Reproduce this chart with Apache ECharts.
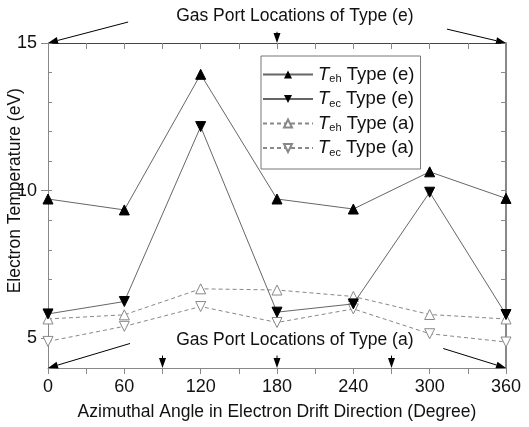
<!DOCTYPE html>
<html><head><meta charset="utf-8">
<script src="https://cdn.jsdelivr.net/npm/echarts@6/dist/echarts.min.js"></script>
<style>html,body{margin:0;padding:0;background:#fff}#c{width:529px;height:427px}</style>
</head><body><div id="c"></div>
<script>
var angles = [0, 60, 120, 180, 240, 300, 360];
var tehE = [9.72, 9.35, 13.94, 9.72, 9.38, 10.64, 9.74];
var tecE = [5.83, 6.25, 12.17, 5.89, 6.17, 9.95, 5.81];
var tehA = [5.66, 5.80, 6.68, 6.64, 6.42, 5.81, 5.66];
var tecA = [4.90, 5.41, 6.08, 5.54, 6.00, 5.16, 4.88];
var yLabelValues = [5, 10, 15];
var topText = 'Gas Port Locations of Type (e)';
var bottomText = 'Gas Port Locations of Type (a)';
// arrows in data units: [fromX, fromY, toX, toY]
var topArrows = [[63, 15.71, 0, 15], [313.6, 15.47, 360, 15], [180, 15.38, 180, 15]];
var bottomArrows = [[64.5, 4.83, 0, 4], [310.7, 4.66, 360, 4], [90, 4.42, 90, 4], [180, 4.42, 180, 4], [270, 4.42, 270, 4]];

function pairs(ys){ return angles.map(function(a,i){ return [a, ys[i]]; }); }
var FONT = '"Liberation Sans", Arial, sans-serif';
var names = ['Teh Type (e)', 'Tec Type (e)', 'Teh Type (a)', 'Tec Type (a)'];
var legendRich = {
  'Teh Type (e)': '{t|T}{s|eh}{n| Type (e)}',
  'Tec Type (e)': '{t|T}{s|ec}{n| Type (e)}',
  'Teh Type (a)': '{t|T}{s|eh}{n| Type (a)}',
  'Tec Type (a)': '{t|T}{s|ec}{n| Type (a)}'
};

var chart = echarts.init(document.getElementById('c'), null, {renderer:'canvas'});
var axisGray = '#888';
var option = {
  animation: false,
  backgroundColor: '#fff',
  grid: {left: 48, right: 23, top: 43, bottom: 59},
  legend: {
    orient: 'vertical', left: 261, top: 56,
    itemWidth: 50, itemHeight: 10, itemGap: 5,
    borderColor: '#777', borderWidth: 1,
    padding: [9, 6, 11, 1],
    data: names,
    formatter: function(n){ return legendRich[n]; },
    textStyle: {
      fontFamily: FONT, fontSize: 18.5, color: '#111',
      rich: {
        t: {fontFamily: FONT, fontSize: 18.5, fontStyle: 'italic', color: '#111'},
        s: {fontFamily: FONT, fontSize: 11, color: '#111', padding: [9, 0, 0, 0]},
        n: {fontFamily: FONT, fontSize: 18.5, color: '#111'}
      }
    }
  },
  xAxis: [{
    type: 'value', min: 0, max: 360, interval: 30,
    axisLine: {lineStyle: {color: axisGray, width: 1}},
    axisTick: {length: 6, lineStyle: {color: axisGray}},
    axisLabel: {fontFamily: FONT, fontSize: 18, color: '#111', margin: 10,
      formatter: function(v){ return v % 60 === 0 ? String(v) : ''; }},
    splitLine: {show: false},
    name: 'Azimuthal Angle in Electron Drift Direction (Degree)',
    nameLocation: 'middle', nameGap: 35,
    nameTextStyle: {fontFamily: FONT, fontSize: 17.5, color: '#111'}
  }, {
    type: 'value', position: 'top', min: 0, max: 360, interval: 30,
    axisLine: {show: true, lineStyle: {color: '#444', width: 1}},
    axisTick: {inside: true, length: 6, lineStyle: {color: axisGray}},
    axisLabel: {show: false}, splitLine: {show: false}
  }],
  yAxis: [{
    type: 'value', min: 4, max: 15, interval: 1,
    axisLine: {show: true, lineStyle: {color: axisGray, width: 1}},
    axisTick: {show: true, length: 7, customValues: yLabelValues, lineStyle: {color: axisGray}},
    axisLabel: {fontFamily: FONT, fontSize: 18, color: '#111', margin: 11, customValues: yLabelValues},
    splitLine: {show: false}
  }, {
    type: 'value', position: 'left', min: 4, max: 15, interval: 1,
    axisLine: {show: false},
    axisTick: {show: true, inside: true, length: 4, lineStyle: {color: axisGray}},
    axisLabel: {show: false}, splitLine: {show: false}
  }, {
    type: 'value', position: 'right', min: 4, max: 15, interval: 1,
    axisLine: {show: true, lineStyle: {color: axisGray, width: 2}},
    axisTick: {show: true, inside: true, length: 5, lineStyle: {color: axisGray}},
    axisLabel: {show: false}, splitLine: {show: false}
  }],
  series: [{
    name: names[0], type: 'line', data: pairs(tehE),
    symbol: 'triangle', symbolSize: 10,
    lineStyle: {color: '#666', width: 1},
    itemStyle: {color: '#000', borderColor: '#000'}, z: 4
  }, {
    name: names[1], type: 'line', data: pairs(tecE),
    symbol: 'triangle', symbolRotate: 180, symbolSize: 10,
    lineStyle: {color: '#666', width: 1},
    itemStyle: {color: '#000', borderColor: '#000'}, z: 4
  }, {
    name: names[2], type: 'line', data: pairs(tehA),
    symbol: 'triangle', symbolSize: 10,
    lineStyle: {color: '#888', width: 1, type: [4, 3]},
    itemStyle: {color: '#fff', borderColor: '#888', borderWidth: 1}, z: 3
  }, {
    name: names[3], type: 'line', data: pairs(tecA),
    symbol: 'triangle', symbolRotate: 180, symbolSize: 10,
    lineStyle: {color: '#888', width: 1, type: [4, 3]},
    itemStyle: {color: '#fff', borderColor: '#888', borderWidth: 1}, z: 3
  }]
};
chart.setOption(option);

function arrowGraphics(list){
  var out = [];
  list.forEach(function(a){
    var p0 = chart.convertToPixel({gridIndex: 0}, [a[0], a[1]]);
    var p1 = chart.convertToPixel({gridIndex: 0}, [a[2], a[3]]);
    var dx = p1[0]-p0[0], dy = p1[1]-p0[1];
    var L = Math.sqrt(dx*dx+dy*dy), ux = dx/L, uy = dy/L;
    var hl = 10, hw = 3.5;
    var bx = p1[0]-ux*hl, by = p1[1]-uy*hl;
    out.push({type: 'line', shape: {x1: p0[0], y1: p0[1], x2: bx, y2: by},
      style: {stroke: '#000', lineWidth: 1}, z: 10});
    out.push({type: 'polygon', shape: {points: [[p1[0], p1[1]], [bx - uy*hw, by + ux*hw], [bx + uy*hw, by - ux*hw]]},
      style: {fill: '#000'}, z: 10});
  });
  return out;
}
var g = [];
g = g.concat(arrowGraphics(topArrows), arrowGraphics(bottomArrows));
var tp = chart.convertToPixel({gridIndex: 0}, [194, 15.9]);
var bp = chart.convertToPixel({gridIndex: 0}, [194, 4.94]);
g.push({type: 'text', x: tp[0], y: tp[1], style: {text: topText, font: '17.5px ' + FONT, fill: '#111', textAlign: 'center', textVerticalAlign: 'middle'}, z: 10});
g.push({type: 'text', x: bp[0], y: bp[1], style: {text: bottomText, font: '17.5px ' + FONT, fill: '#111', textAlign: 'center', textVerticalAlign: 'middle'}, z: 10});
var yc = chart.convertToPixel({yAxisIndex: 0}, 10);
g.push({type: 'text', x: 15, y: yc, rotation: Math.PI/2, style: {text: 'Electron Temperature (eV)', font: '17.5px ' + FONT, fill: '#111', textAlign: 'center', textVerticalAlign: 'middle'}, z: 10});
chart.setOption({graphic: g});
</script></body></html>
